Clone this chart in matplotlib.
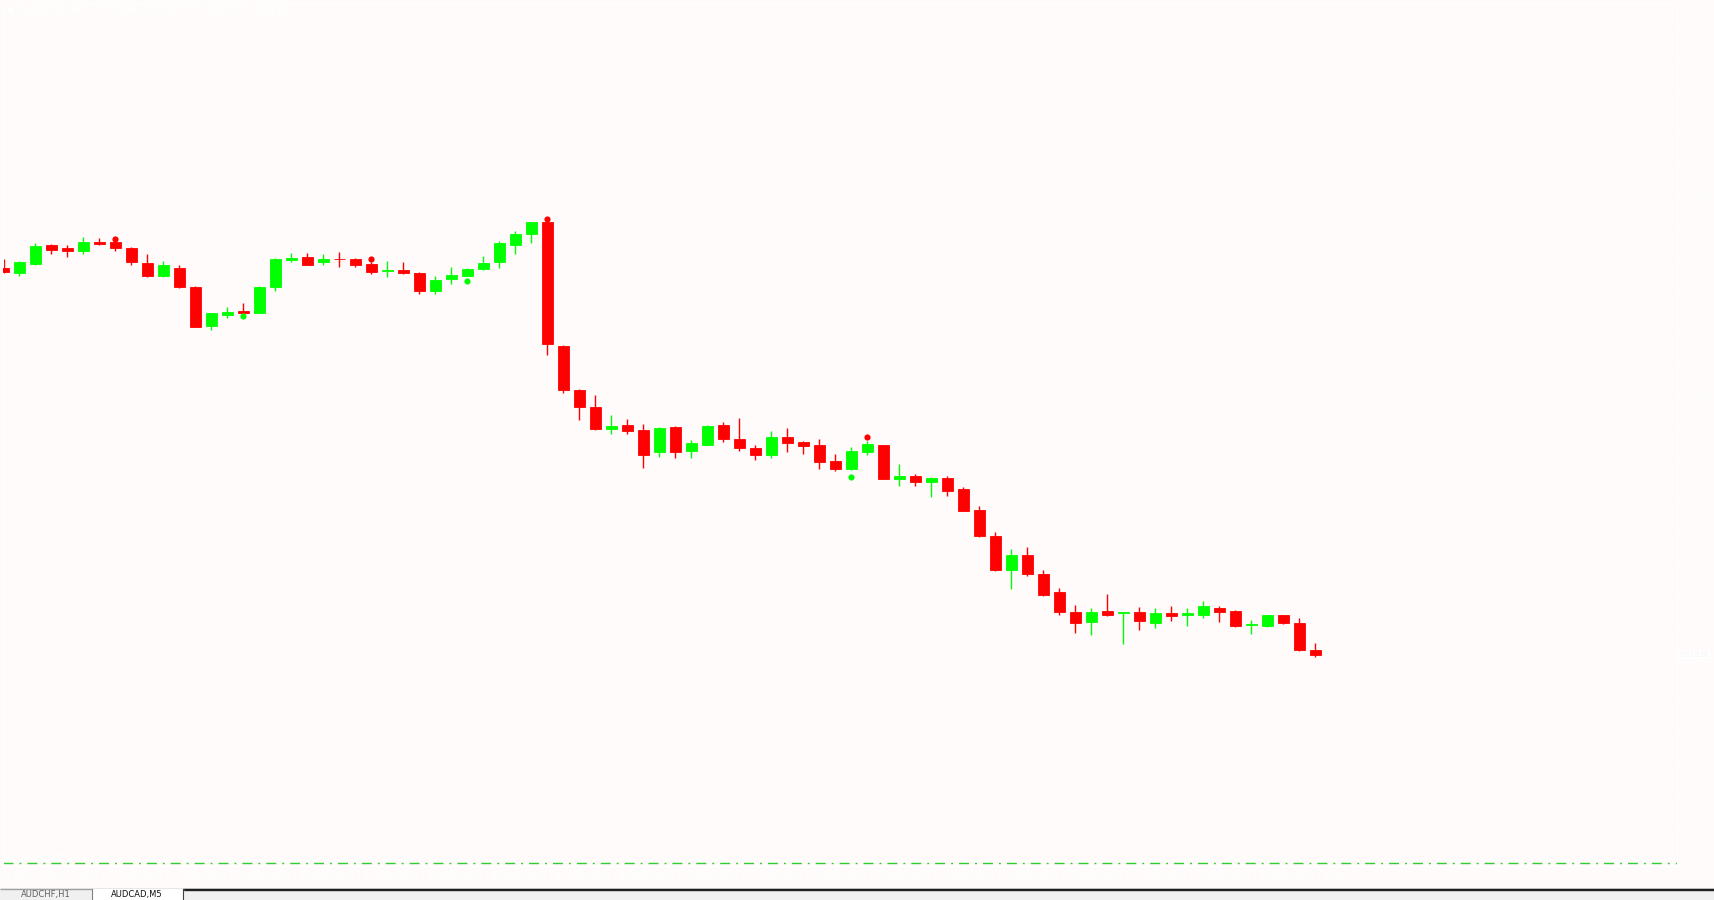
import matplotlib
matplotlib.use("Agg")
import matplotlib.pyplot as plt
from matplotlib.patches import Rectangle
import numpy as np
import pandas as pd

plt.rcParams['lines.scale_dashes'] = False
plt.rcParams['font.family'] = ['DejaVu Sans']

# ---------------- data (AUDCAD, M5, 5 Dec 2025, from 11:40) ----------------
symbol = "AUDCAD,M5"
header_ohlc = ["0.91846", "0.91857", "0.91835", "0.91838"]
start_time = "2025-12-05 11:40"

opens = [0.92475, 0.92467, 0.92482, 0.92513, 0.92508, 0.92502, 0.92518, 0.92518, 0.92508, 0.92483,
         0.92462, 0.92475, 0.92443, 0.92380, 0.92398, 0.92404, 0.92401, 0.92444, 0.92488, 0.92493,
         0.92485, 0.92490, 0.92490, 0.92481, 0.92470, 0.92472, 0.92467, 0.92437, 0.92456, 0.92462,
         0.92473, 0.92484, 0.92513, 0.92531, 0.92550, 0.92346, 0.92274, 0.92246, 0.92210, 0.92216,
         0.92208, 0.92171, 0.92213, 0.92174, 0.92184, 0.92216, 0.92193, 0.92178, 0.92167, 0.92196,
         0.92188, 0.92183, 0.92157, 0.92144, 0.92171, 0.92183, 0.92128, 0.92132, 0.92123, 0.92129,
         0.92111, 0.92076, 0.92033, 0.91978, 0.92002, 0.91971, 0.91941, 0.91908, 0.91892, 0.91910,
         0.91906, 0.91908, 0.91890, 0.91906, 0.91903, 0.91904, 0.91915, 0.91910, 0.91887, 0.91885,
         0.91903, 0.91890, 0.91846]
highs = [0.92490, 0.92486, 0.92516, 0.92514, 0.92513, 0.92526, 0.92524, 0.92519, 0.92509, 0.92498,
         0.92486, 0.92480, 0.92445, 0.92401, 0.92411, 0.92417, 0.92445, 0.92491, 0.92500, 0.92500,
         0.92498, 0.92501, 0.92491, 0.92485, 0.92486, 0.92485, 0.92469, 0.92462, 0.92476, 0.92475,
         0.92495, 0.92519, 0.92536, 0.92551, 0.92552, 0.92348, 0.92275, 0.92266, 0.92233, 0.92226,
         0.92218, 0.92213, 0.92214, 0.92192, 0.92217, 0.92221, 0.92228, 0.92183, 0.92206, 0.92211,
         0.92190, 0.92193, 0.92169, 0.92180, 0.92190, 0.92184, 0.92152, 0.92136, 0.92130, 0.92132,
         0.92114, 0.92083, 0.92040, 0.92012, 0.92015, 0.91978, 0.91948, 0.91920, 0.91915, 0.91938,
         0.91909, 0.91917, 0.91915, 0.91918, 0.91915, 0.91926, 0.91918, 0.91912, 0.91895, 0.91904,
         0.91904, 0.91899, 0.91857]
lows = [0.92467, 0.92462, 0.92480, 0.92498, 0.92493, 0.92498, 0.92512, 0.92503, 0.92479, 0.92460,
        0.92460, 0.92442, 0.92377, 0.92373, 0.92393, 0.92399, 0.92400, 0.92437, 0.92484, 0.92479,
        0.92479, 0.92477, 0.92477, 0.92465, 0.92460, 0.92465, 0.92432, 0.92432, 0.92449, 0.92461,
        0.92472, 0.92474, 0.92498, 0.92516, 0.92332, 0.92269, 0.92225, 0.92208, 0.92202, 0.92202,
        0.92146, 0.92164, 0.92162, 0.92162, 0.92183, 0.92189, 0.92174, 0.92159, 0.92162, 0.92172,
        0.92169, 0.92144, 0.92141, 0.92142, 0.92167, 0.92127, 0.92116, 0.92116, 0.92098, 0.92100,
        0.92074, 0.92032, 0.91976, 0.91947, 0.91968, 0.91935, 0.91904, 0.91873, 0.91871, 0.91901,
        0.91856, 0.91878, 0.91882, 0.91894, 0.91886, 0.91899, 0.91892, 0.91884, 0.91872, 0.91884,
        0.91888, 0.91844, 0.91835]
closes = [0.92469, 0.92485, 0.92511, 0.92505, 0.92502, 0.92518, 0.92515, 0.92507, 0.92484, 0.92462,
          0.92480, 0.92444, 0.92378, 0.92401, 0.92402, 0.92400, 0.92443, 0.92490, 0.92491, 0.92480,
          0.92490, 0.92489, 0.92479, 0.92469, 0.92472, 0.92467, 0.92437, 0.92455, 0.92464, 0.92473,
          0.92483, 0.92516, 0.92531, 0.92550, 0.92350, 0.92274, 0.92246, 0.92210, 0.92215, 0.92207,
          0.92167, 0.92211, 0.92171, 0.92187, 0.92215, 0.92194, 0.92179, 0.92167, 0.92196, 0.92187,
          0.92182, 0.92156, 0.92143, 0.92173, 0.92185, 0.92128, 0.92132, 0.92123, 0.92129, 0.92108,
          0.92075, 0.92034, 0.91978, 0.92002, 0.91971, 0.91937, 0.91909, 0.91891, 0.91908, 0.91904,
          0.91908, 0.91894, 0.91907, 0.91902, 0.91906, 0.91918, 0.91909, 0.91885, 0.91889, 0.91903,
          0.91890, 0.91846, 0.91838]

# signal dots
sell_idx = [7, 23, 34, 54]
sell_price = [0.92523, 0.92490, 0.92556, 0.92197]
buy_idx = [15, 29, 53]
buy_price = [0.92395, 0.92454, 0.92130]

# open trade line
trade_label = "#7215229 buy 0.48"
trade_price = 0.91495

# price scale labels
price_top = 0.92870
price_step = 0.00055
n_price_ticks = 26
bid_price = 0.91838

# tabs
tab_names = ["AUDCHF,H1", "AUDCAD,M5"]

# ---------------- figure ----------------
W, H = 1714, 900
BG = '#FFFBFA'
fig = plt.figure(figsize=(W / 100, H / 100), dpi=100, facecolor=BG)

left_px, right_px, top_px, bot_px = 3, 1677, 3, 866
ax = fig.add_axes([left_px / W, 1 - bot_px / H, (right_px - left_px) / W, (bot_px - top_px) / H])
ax.set_facecolor(BG)

n = len(opens)
x = np.arange(n)
o = np.array(opens); c = np.array(closes); h = np.array(highs); l = np.array(lows)
up = c >= o
RED, GREEN = '#FF0000', '#00FF00'
cols = np.where(up, GREEN, RED)

px = 16.0  # pixels per bar
ax.set_xlim(-(3.5 - left_px) / px, (right_px - 3.5) / px)
pp = 0.00055 / 33.4  # price per pixel
ax.set_ylim(price_top - (bot_px - 28) * pp, price_top + (28 - top_px) * pp)

ax.vlines(x, l, h, colors=cols, linewidth=1.0, zorder=2)
body_w = 11 / px
ax.bar(x, c - o, bottom=o, width=body_w, color=cols, edgecolor=cols, linewidth=0.6, zorder=3)

ax.scatter(sell_idx, sell_price, s=20, color=RED, zorder=4, linewidths=0)
ax.scatter(buy_idx, buy_price, s=20, color=GREEN, zorder=4, linewidths=0)

# trade line
ax.axhline(trade_price, color='#32CD32', linewidth=1.0, linestyle=(0, (7.2, 4.3, 1.4, 4.3)), zorder=1)
ax.text(7 / px, trade_price + 6 * pp, trade_label, color='white', fontsize=7.5, va='center', ha='left')

# price axis
yt = [price_top - k * price_step for k in range(n_price_ticks)]
ax.yaxis.tick_right()
ax.set_yticks(yt)
ax.set_yticklabels([f"{v:.5f}" for v in yt])
ax.tick_params(axis='y', colors='white', labelcolor='white', length=2, width=0.8, pad=2, labelsize=5)

# time axis
times = pd.date_range(start_time, periods=n, freq='5min')
xt = list(range(0, n, 4))
xl = []
for k, i in enumerate(xt):
    t = times[i]
    xl.append("5 Dec 2025" if k == 0 else f"{t.day} {t.strftime('%b')} {t.strftime('%H:%M')}")
ax.set_xticks(xt)
ax.set_xticklabels(xl)
ax.tick_params(axis='x', colors='white', labelcolor='white', length=4, width=0.8, pad=1, labelsize=7.5)
for lab in ax.get_xticklabels():
    lab.set_ha('left')

for s in ax.spines.values():
    s.set_color('white')
    s.set_linewidth(0.8)

# bid price label
ax.annotate(f"{bid_price:.5f}", xy=(1.0, bid_price), xycoords=('axes fraction', 'data'),
            xytext=(2, 0), textcoords='offset points', color='#F4F4F4', fontsize=5, va='center',
            ha='left', bbox=dict(boxstyle='square,pad=0.15', fc='white', ec='none'))

# header
fig.text(7 / W, 1 - 11 / H, "▼", color='white', fontsize=7, va='center', ha='left')
fig.text(19 / W, 1 - 11 / H, symbol + "  " + " ".join(header_ohlc), color='white', fontsize=8,
         va='center', ha='left')

# bottom tab bar
bar = fig.add_axes([0, 0, 1, 12 / H])
bar.set_xlim(0, W); bar.set_ylim(0, 12)
bar.axis('off')
bar.add_patch(Rectangle((0, 0), W, 12, color='#F0F0F0'))
bar.add_patch(Rectangle((0, 10.6), W, 0.8, color='#A0A0A0'))
bar.add_patch(Rectangle((183, 9.6), W - 183, 1.2, color='#202020'))
bar.add_patch(Rectangle((92, 0), 91, 11.2, color='white'))
bar.plot([92, 92], [0, 11.4], color='#808080', lw=0.8)
bar.plot([183, 183], [0, 11.4], color='#404040', lw=0.8)
bar.text(46, 5.0, tab_names[0], color='#606060', fontsize=6, ha='center', va='center')
bar.text(137, 5.0, tab_names[1], color='#101010', fontsize=6, ha='center', va='center')

fig.savefig("out.png", dpi=100, facecolor=BG)
